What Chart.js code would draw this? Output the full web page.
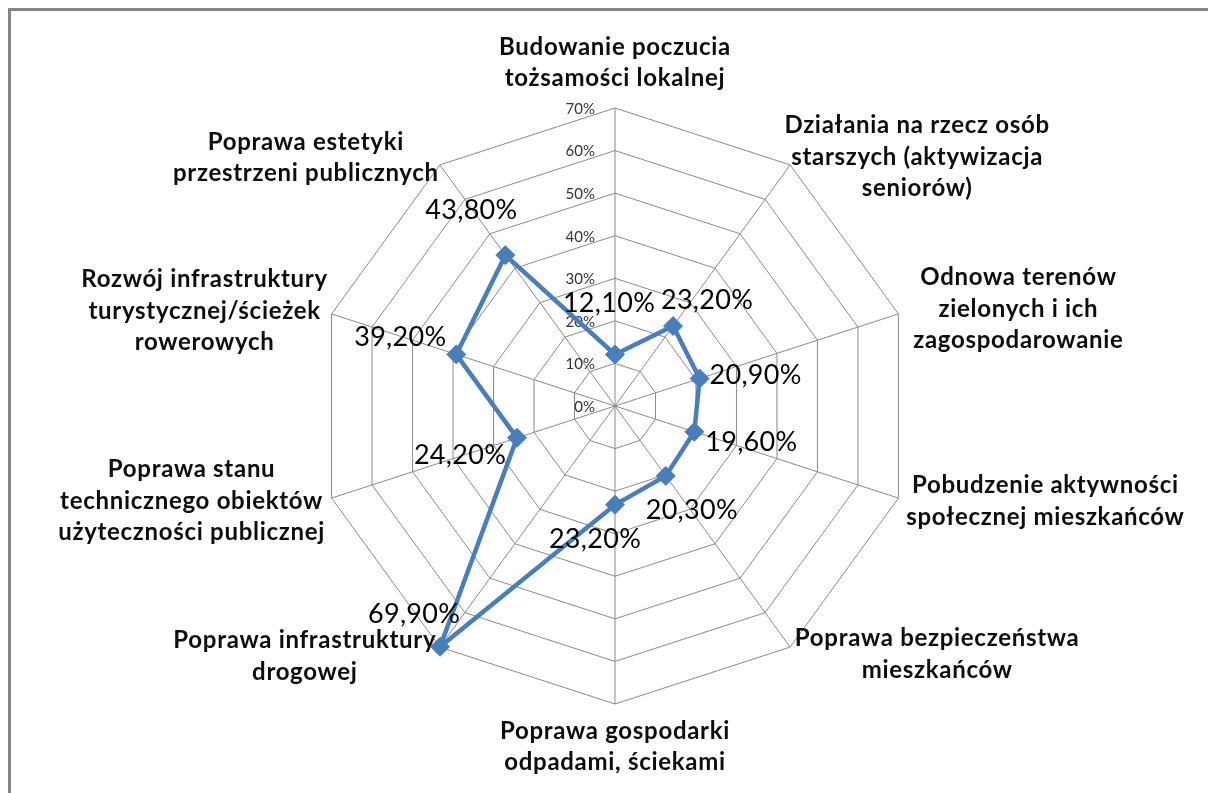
<!DOCTYPE html>
<html><head><meta charset="utf-8">
<script src="https://cdn.jsdelivr.net/npm/chart.js@4"></script>
<style>html,body{margin:0;padding:0;background:#fff;} #wrap{width:1208px;height:793px;position:relative;}</style>
</head><body><div id="wrap"><canvas id="c"></canvas></div>
<script>
const categories = [
  ['Budowanie poczucia', 'tożsamości lokalnej'],
  ['Działania na rzecz osób', 'starszych (aktywizacja', 'seniorów)'],
  ['Odnowa terenów', 'zielonych i ich', 'zagospodarowanie'],
  ['Pobudzenie aktywności', 'społecznej mieszkańców'],
  ['Poprawa bezpieczeństwa', 'mieszkańców'],
  ['Poprawa gospodarki', 'odpadami, ściekami'],
  ['Poprawa infrastruktury', 'drogowej'],
  ['Poprawa stanu', 'technicznego obiektów', 'użyteczności publicznej'],
  ['Rozwój infrastruktury', 'turystycznej/ścieżek', 'rowerowych'],
  ['Poprawa estetyki', 'przestrzeni publicznych']
];
const values = [12.1, 23.2, 20.9, 19.6, 20.3, 23.2, 69.9, 24.2, 39.2, 43.8];
const tickMin = 0, tickMax = 70, tickStep = 10;
const tickLabel = v => v + '%';
const valueLabel = v => v.toFixed(2).replace('.', ',') + '%';

// layout/style only (offsets in px relative to anchor points)
const catOffsets = [[0,-45],[127,-8],[120,-5],[147,3],[147,7],[0,43],[-135,9],[-140,3],[-127,-3],[-134,-7]];
const lblOffsets = [[-6,-51],[34,-26],[56,-3],[57,11],[26,34],[-20,35],[-26,-32],[-57,17],[-56,-17],[-34,-45]];

const frame = {
  id: 'frame',
  beforeDraw(chart) {
    const ctx = chart.ctx;
    ctx.save();
    ctx.strokeStyle = '#868686';
    ctx.lineWidth = 3;
    ctx.strokeRect(9.5, 9.5, 1400, 1000);
    ctx.restore();
  }
};

const texts = {
  id: 'texts',
  beforeDatasetsDraw(chart) {
    const ctx = chart.ctx, s = chart.scales.r;
    ctx.save();
    ctx.font = '15px Lato';
    ctx.fillStyle = '#333';
    ctx.textAlign = 'right';
    ctx.textBaseline = 'middle';
    s.ticks.forEach(t => {
      const d = s.getDistanceFromCenterForValue(t.value);
      ctx.fillText(tickLabel(t.value), s.xCenter - 20, s.yCenter - d + 1);
    });
    ctx.font = 'bold 24px Lato';
    if ('letterSpacing' in ctx) ctx.letterSpacing = '0.7px';
    ctx.fillStyle = '#0d0d0d';
    ctx.textAlign = 'center';
    categories.forEach((lines, i) => {
      const p = s.getPointPosition(i, s.drawingArea);
      const cx = p.x + catOffsets[i][0], cy = p.y + catOffsets[i][1];
      lines.forEach((ln, j) => {
        ctx.fillText(ln, cx, cy + (j - (lines.length - 1) / 2) * 31.5);
      });
    });
    ctx.restore();
  },
  afterDatasetsDraw(chart) {
    const ctx = chart.ctx;
    const meta = chart.getDatasetMeta(0);
    ctx.save();
    ctx.font = '27px Lato';
    if ('letterSpacing' in ctx) ctx.letterSpacing = '0.3px';
    ctx.fillStyle = '#000';
    ctx.textAlign = 'center';
    ctx.textBaseline = 'middle';
    meta.data.forEach((pt, i) => {
      ctx.fillText(valueLabel(values[i]), pt.x + lblOffsets[i][0], pt.y + lblOffsets[i][1]);
    });
    ctx.restore();
  }
};

new Chart(document.getElementById('c'), {
  type: 'radar',
  data: {
    labels: categories,
    datasets: [{
      data: values,
      borderColor: '#4a7ebb',
      backgroundColor: '#4a7ebb',
      borderWidth: 4.5,
      pointStyle: 'rectRot',
      pointRadius: 9.5,
      pointBackgroundColor: '#4a7ebb',
      pointBorderColor: '#4a7ebb',
      pointBorderWidth: 1,
      fill: false,
      tension: 0
    }]
  },
  options: {
    responsive: true,
    maintainAspectRatio: false,
    animation: false,
    layout: { padding: { left: 317, right: 295, top: 108, bottom: 89 } },
    plugins: { legend: { display: false }, tooltip: { enabled: false } },
    scales: {
      r: {
        min: tickMin, max: tickMax,
        ticks: { display: false, stepSize: tickStep },
        pointLabels: { display: false },
        grid: { color: '#8a8a8a', lineWidth: 1 },
        angleLines: { color: '#8a8a8a', lineWidth: 1 }
      }
    }
  },
  plugins: [frame, texts]
});
</script>
</body></html>
